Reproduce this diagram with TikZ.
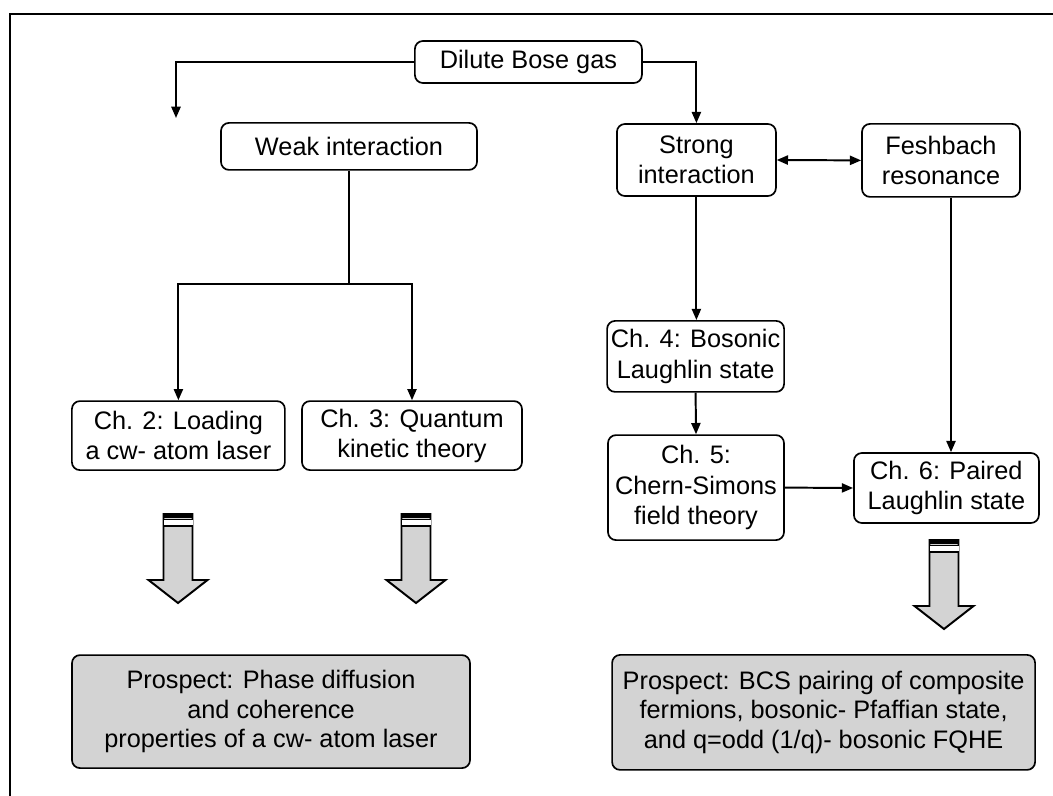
\documentclass[tikz,border=0pt]{standalone}
\usepackage{fontspec}
\setmainfont{Liberation Sans}
\usetikzlibrary{arrows.meta, positioning, calc}
\usepackage{xcolor}
\definecolor{pgray}{RGB}{211,211,211}

% broad down arrow with striped head
\newcommand{\fatarrow}[2]{%
  \begin{scope}[shift={(#1,#2)}]
    \draw[fatarr] (-0.3625,0) -- (-0.3625,-1.65) -- (-0.7375,-1.65) -- (0,-2.225)
      -- (0.7375,-1.65) -- (0.3625,-1.65) -- (0.3625,0) -- cycle;
    \fill[white] (-0.3625,-0.16) rectangle (0.3625,-0.28);
    \fill (-0.3625,0) rectangle (0.3625,-0.09);
    \draw[line width=1pt] (-0.3625,-0.14) -- (0.3625,-0.14);
    \draw[line width=1pt] (-0.3625,-0.30) -- (0.3625,-0.30);
  \end{scope}}

\begin{document}
\begin{tikzpicture}[
  font=\fontsize{18}{21.5}\selectfont,
  box/.style={draw,rounded corners=0.2cm,line width=1.2pt,align=center,inner sep=2pt},
  prosp/.style={box,fill=pgray,font=\fontsize{18}{20.8}\selectfont},
  arr/.style={-{Triangle[length=8pt,width=6.5pt]},line width=1.4pt},
  dbl/.style={{Triangle[length=8pt,width=6.5pt]}-{Triangle[length=8pt,width=6.5pt]},line width=1.4pt},
  fatarr/.style={draw,fill=pgray,line width=1.4pt,line join=miter}
]
\useasboundingbox[fill=white] (0,0) rectangle (26.325,-19.9);
\draw[line width=1.6pt] (0.25,-19.9) -- (0.25,-0.35) -- (26.325,-0.35);

\node[box,minimum width=5.675cm,minimum height=1.05cm]  (bose)   at (13.21,-1.55) {Dilute Bose gas};
\node[box,minimum width=6.4cm,minimum height=1.175cm]   (weak)   at (8.725,-3.66) {Weak interaction};
\node[box,minimum width=3.975cm,minimum height=1.8cm]   (strong) at (17.41,-4.0)  {Strong\\interaction};
\node[box,minimum width=3.95cm,minimum height=1.825cm]  (fesh)   at (23.525,-4.01) {Feshbach\\resonance};
\node[box,minimum width=5.325cm,minimum height=1.725cm] (ch2)    at (4.46,-10.89) {Ch. 2: Loading\\a cw- atom laser};
\node[box,minimum width=5.5cm,minimum height=1.725cm]   (ch3)    at (10.3,-10.89) {Ch. 3: Quantum\\kinetic theory};
\node[box,minimum width=4.425cm,minimum height=1.775cm] (ch4)    at (17.39,-8.91) {Ch. 4: Bosonic\\Laughlin state};
\node[box,minimum width=4.4cm,minimum height=2.625cm]   (ch5)    at (17.4,-12.19) {Ch. 5:\\Chern-Simons\\field theory};
\node[box,minimum width=4.625cm,minimum height=1.75cm]  (ch6)    at (23.66,-12.2) {Ch. 6: Paired\\Laughlin state};

\node[prosp,minimum width=9.95cm,minimum height=2.825cm]  (pros1) at (6.775,-17.79)
  {Prospect: Phase diffusion\\and coherence\\properties of a cw- atom laser};
\node[prosp,minimum width=10.575cm,minimum height=2.875cm] (pros2) at (20.59,-17.81)
  {Prospect: BCS pairing of composite\\fermions, bosonic- Pfaffian state,\\and q=odd (1/q)- bosonic FQHE};

\coordinate (wkin)  at (4.4,-2.95);
\coordinate (split) at (8.725,-7.1);

\draw[arr] (bose.west) -| (wkin);
\draw[arr] (bose.east) -| (strong.north);
\draw[arr] (weak.south) -- (split) -| (ch2.north);
\draw[arr] (split) -| (ch3.north);
\draw[dbl] (strong.east) -- (fesh.west);
\draw[arr] (strong.south) -- (strong.south |- ch4.north);
\draw[arr] (ch4.south) -- (ch5.north);
\draw[arr] (ch5.east) -- (ch6.west);
\draw[arr] ([xshift=2.5mm]fesh.south) -- ([xshift=2.5mm]fesh.south |- ch6.north);

\fatarrow{4.45}{-12.85}
\fatarrow{10.4}{-12.85}
\fatarrow{23.6}{-13.5}
\end{tikzpicture}
\end{document}
